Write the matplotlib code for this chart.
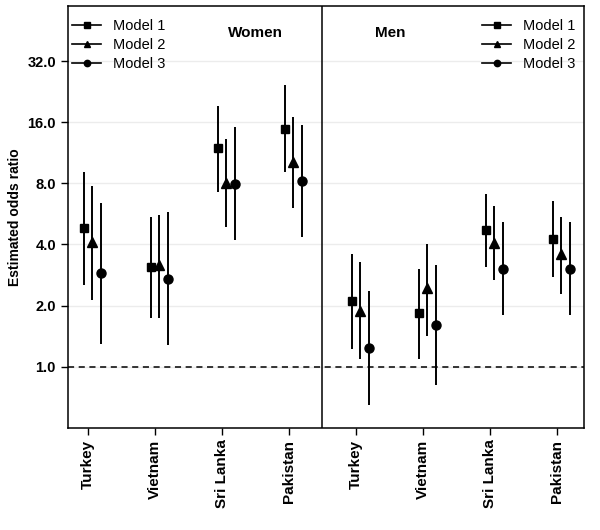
import matplotlib
matplotlib.use('Agg')
import matplotlib.pyplot as plt
import numpy as np
from matplotlib.lines import Line2D

plt.rcParams['font.family'] = ['Liberation Sans', 'DejaVu Sans']

countries = ['Turkey', 'Vietnam', 'Sri Lanka', 'Pakistan',
             'Turkey', 'Vietnam', 'Sri Lanka', 'Pakistan']
models = ['Model 1', 'Model 2', 'Model 3']

# odds ratios, lower and upper CI: women (first 4) then men (last 4)
m1_or = [4.80, 3.11, 11.9, 14.9, 2.11, 1.83, 4.71, 4.28]
m1_lo = [2.53, 1.74, 7.28, 9.06, 1.22, 1.09, 3.11, 2.78]
m1_hi = [9.10, 5.48, 19.3, 24.5, 3.60, 3.02, 7.12, 6.57]

m2_or = [4.11, 3.17, 8.06, 10.2, 1.89, 2.43, 4.09, 3.59]
m2_lo = [2.13, 1.74, 4.85, 6.05, 1.09, 1.42, 2.66, 2.28]
m2_hi = [7.80, 5.60, 13.3, 16.9, 3.26, 4.02, 6.16, 5.46]

m3_or = [2.89, 2.70, 7.94, 8.25, 1.24, 1.60, 3.04, 3.04]
m3_lo = [1.29, 1.28, 4.19, 4.35, 0.647, 0.815, 1.79, 1.80]
m3_hi = [6.40, 5.75, 15.2, 15.5, 2.36, 3.17, 5.14, 5.14]

yticks = [1.0, 2.0, 4.0, 8.0, 16.0, 32.0]

fig = plt.figure(figsize=(6, 5.3), dpi=100)
ax = fig.add_axes([0.113, 0.193, 0.860, 0.796])

x = np.arange(1, len(countries) + 1)
series = [(m1_or, m1_lo, m1_hi, 's', 6, -0.06),
          (m2_or, m2_lo, m2_hi, '^', 6.5, 0.065),
          (m3_or, m3_lo, m3_hi, 'o', 6.5, 0.19)]
for est, lo, hi, mk, ms, off in series:
    est = np.array(est)
    err = [est - np.array(lo), np.array(hi) - est]
    ax.errorbar(x + off, est, yerr=err, fmt=mk, color='black', ms=ms,
                elinewidth=1.4, capsize=0, zorder=3)

ax.set_yscale('log', base=2)
ax.set_ylim(0.5, 60)
ax.set_xlim(0.7, 8.4)
ax.set_yticks(yticks)
ax.set_yticklabels(['%.1f' % v for v in yticks], fontweight='bold', fontsize=10.5)
ax.yaxis.set_minor_locator(plt.NullLocator())
ax.set_xticks(x)
ax.set_xticklabels(countries, rotation=90, fontweight='bold', fontsize=11)
ax.tick_params(axis='both', length=5, width=1, color='black')
for yv in yticks:
    ax.axhline(yv, color='#ececec', lw=1, zorder=0)
ax.axhline(1.0, color='black', ls=(0, (4, 3)), lw=1.1, zorder=2)
ax.axvline(4.5, color='black', lw=1.1, zorder=2)
ax.set_ylabel('Estimated odds ratio', fontweight='bold', fontsize=10)
for sp in ax.spines.values():
    sp.set_linewidth(1.1)

ax.text(0.364, 0.936, 'Women', transform=ax.transAxes, fontweight='bold',
        fontsize=11, ha='center', va='center')
ax.text(0.624, 0.936, 'Men', transform=ax.transAxes, fontweight='bold',
        fontsize=11, ha='center', va='center')

handles = [Line2D([], [], color='black', marker=m, ms=s * 0.7, lw=1.2)
           for _, _, _, m, s, _ in series]
kw = dict(frameon=False, fontsize=10.5, handlelength=2.0, labelspacing=0.35,
          borderpad=0, borderaxespad=0.3, handletextpad=0.8)
leg1 = ax.legend(handles, models, loc='upper left', bbox_to_anchor=(0.0, 0.979), **kw)
ax.add_artist(leg1)
ax.legend(handles, models, loc='upper right', bbox_to_anchor=(0.992, 0.979), **kw)

fig.savefig('out.png', dpi=100)
